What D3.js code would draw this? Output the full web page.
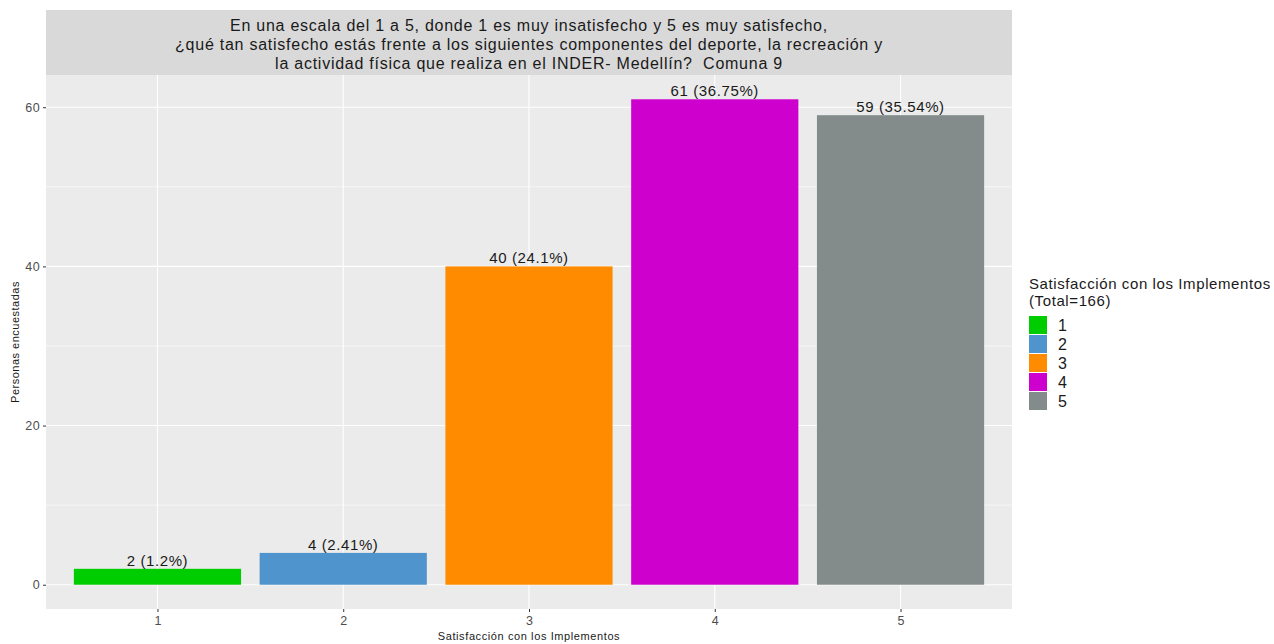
<!DOCTYPE html>
<html><head><meta charset="utf-8">
<script src="https://cdn.jsdelivr.net/npm/d3@7"></script>
<style>body{margin:0;background:#fff;} text{font-family:"Liberation Sans",Arial,sans-serif;white-space:pre;}</style>
</head><body>
<svg id="c" width="1274" height="644"></svg>
<script>
const categories = ["1","2","3","4","5"];
const values = [2,4,40,61,59];
const labels = ["2 (1.2%)","4 (2.41%)","40 (24.1%)","61 (36.75%)","59 (35.54%)"];
const colors = ["#00CD00","#4F94CD","#FF8C00","#CD00CD","#838B8B"];
const yTicks = [0,20,40,60];
const yMinor = [10,30,50];
const titleLines = ["En una escala del 1 a 5, donde 1 es muy insatisfecho y 5 es muy satisfecho,",
 "¿qué tan satisfecho estás frente a los siguientes componentes del deporte, la recreación y",
 "la actividad física que realiza en el INDER- Medellín?  Comuna 9"];
const legendTitle = ["Satisfacción con los Implementos","(Total=166)"];

const svg = d3.select("#c");
const L=46,R=1012,T=75,B=609;
const unit=(R-L)/5.2;
const xc = d3.scalePoint().domain(categories).range([L+unit*0.6, R-unit*0.6]);
const y = d3.scaleLinear().domain([-3.05,64.05]).range([B,T]);

// strip
svg.append("rect").attr("x",L).attr("y",10).attr("width",R-L).attr("height",T-10).attr("fill","#D9D9D9");
svg.append("g").selectAll("text").data(titleLines).join("text")
 .attr("x",(L+R)/2).attr("y",(d,i)=>31+i*19).attr("text-anchor","middle")
 .attr("font-size",16).attr("letter-spacing",0.75).attr("fill","#1A1A1A").text(d=>d);

// panel
svg.append("rect").attr("x",L).attr("y",T).attr("width",R-L).attr("height",B-T).attr("fill","#EBEBEB");
const g=svg.append("g");
g.selectAll(".mn").data(yMinor).join("line").attr("x1",L).attr("x2",R)
 .attr("y1",d=>y(d)).attr("y2",d=>y(d)).attr("stroke","#fff").attr("stroke-width",0.6);
g.selectAll(".mj").data(yTicks).join("line").attr("x1",L).attr("x2",R)
 .attr("y1",d=>y(d)).attr("y2",d=>y(d)).attr("stroke","#fff").attr("stroke-width",1.1);
g.selectAll(".vx").data(categories).join("line").attr("x1",d=>xc(d)).attr("x2",d=>xc(d))
 .attr("y1",T).attr("y2",B).attr("stroke","#fff").attr("stroke-width",1.1);

// bars
const bw=unit*0.9;
g.selectAll(".bar").data(values).join("rect")
 .attr("x",(d,i)=>xc(categories[i])-bw/2).attr("width",bw)
 .attr("y",d=>y(d)).attr("height",d=>y(0)-y(d)).attr("fill",(d,i)=>colors[i]);
g.selectAll(".lbl").data(values).join("text")
 .attr("x",(d,i)=>xc(categories[i])).attr("y",d=>y(d)-3.3).attr("text-anchor","middle")
 .attr("font-size",15).attr("letter-spacing",0.6).attr("fill","#1A1A1A").text((d,i)=>labels[i]);

// axes
const ya=svg.append("g").attr("transform",`translate(${L},0)`)
 .call(d3.axisLeft(y).tickValues(yTicks).tickSize(3).tickPadding(3));
ya.select(".domain").remove();
ya.selectAll("line").attr("stroke","#333");
ya.selectAll("text").attr("font-size",12.5).attr("letter-spacing",0.4).attr("fill","#4D4D4D").style("font-family","Liberation Sans, Arial");
const xa=svg.append("g").attr("transform",`translate(0,${B})`)
 .call(d3.axisBottom(xc).tickSize(3).tickPadding(4));
xa.select(".domain").remove();
xa.selectAll("line").attr("stroke","#333");
xa.selectAll("text").attr("font-size",12.5).attr("fill","#4D4D4D").style("font-family","Liberation Sans, Arial");

svg.append("text").attr("x",(L+R)/2).attr("y",640).attr("text-anchor","middle")
 .attr("font-size",11).attr("letter-spacing",0.6).attr("fill","#1A1A1A").text("Satisfacción con los Implementos");
svg.append("text").attr("transform",`translate(19,${(T+B)/2}) rotate(-90)`).attr("text-anchor","middle")
 .attr("font-size",11).attr("letter-spacing",0.5).attr("fill","#1A1A1A").text("Personas encuestadas");

// legend
const lg=svg.append("g");
lg.selectAll(".lt").data(legendTitle).join("text").attr("x",1029).attr("y",(d,i)=>289+i*17)
 .attr("font-size",15).attr("letter-spacing",0.6).attr("fill","#1A1A1A").text(d=>d);
lg.selectAll(".lk").data(categories).join("rect").attr("x",1029).attr("y",(d,i)=>316+i*19)
 .attr("width",18).attr("height",18).attr("fill",(d,i)=>colors[i]);
lg.selectAll(".ll").data(categories).join("text").attr("x",1058).attr("y",(d,i)=>331+i*19)
 .attr("font-size",16).attr("fill","#1A1A1A").text(d=>d);
</script>
</body></html>
